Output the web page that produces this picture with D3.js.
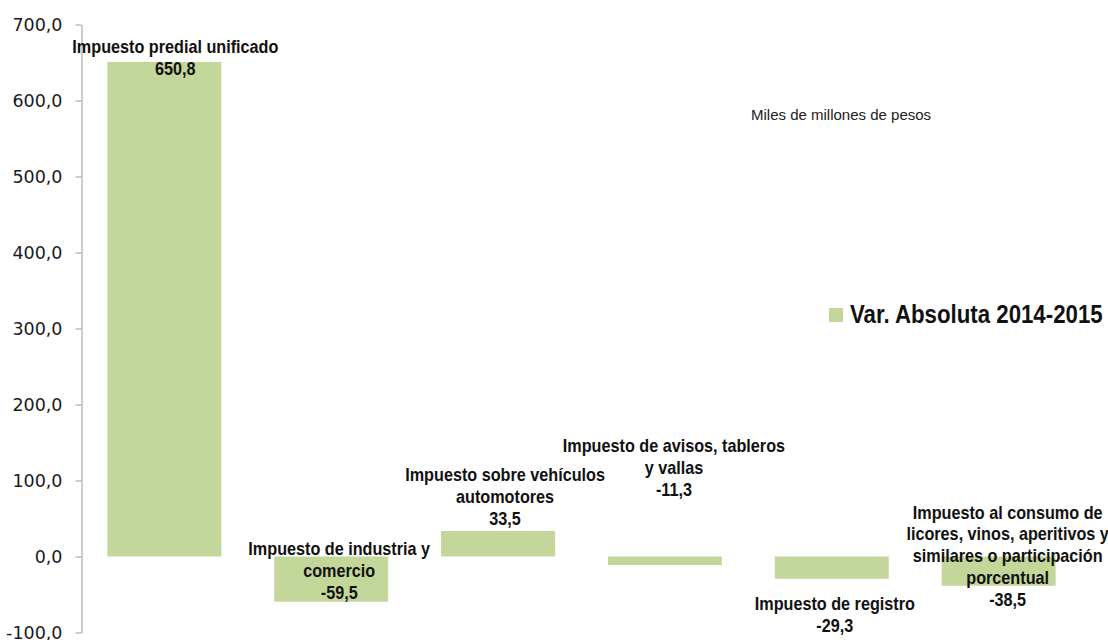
<!DOCTYPE html>
<html>
<head>
<meta charset="utf-8">
<script src="https://cdn.jsdelivr.net/npm/d3@7"></script>
<style>
    body { margin: 0; background: #fff; }
    svg { display: block; }
</style>
</head>
<body>
<script>
// data
const categories = [
    "Impuesto predial unificado",
    "Impuesto de industria y comercio",
    "Impuesto sobre vehículos automotores",
    "Impuesto de avisos, tableros y vallas",
    "Impuesto de registro",
    "Impuesto al consumo de licores, vinos, aperitivos y similares o participación porcentual"
]
const labelLines = [
    ["Impuesto predial unificado"],
    ["Impuesto de industria y", "comercio"],
    ["Impuesto sobre vehículos", "automotores"],
    ["Impuesto de avisos, tableros", "y vallas"],
    ["Impuesto de registro"],
    ["Impuesto al consumo de", "licores, vinos, aperitivos y", "similares o participación", "porcentual"]
]
const values = [650.8, -59.5, 33.5, -11.3, -29.3, -38.5]
const yTicks = [-100, 0, 100, 200, 300, 400, 500, 600, 700]
const seriesName = "Var. Absoluta 2014-2015"
const unitNote = "Miles de millones de pesos"

const width = 1108
const height = 640
const barColor = "#c4d79b"
// no condensed face installed, so squeeze Liberation Sans sideways
const labelFont = "'Liberation Sans', Arial, sans-serif"
const squeeze = 0.9

// manual label offsets (dx from bar centre, dy of last line from bar end), like the Excel original
const labelShift = [[11, 13], [8, -3], [7, -6], [9, -69], [3, 53], [9, 20]]
const lineGap = 21.8

const locale = d3.formatLocale({decimal: ",", thousands: ".", grouping: [3], currency: ["$", ""], minus: "-"})
const fmt = locale.format(".1f")

const svg = d3.select("body").append("svg")
    .attr("width", width)
    .attr("height", height)

const x = d3.scaleBand()
    .domain(categories)
    .range([81, 1082])
    .paddingInner(0.317)
    .paddingOuter(0.158)

const y = d3.scaleLinear()
    .domain([-100, 700])
    .range([632.5, 24.5])

// bars
svg.append("g")
    .selectAll("rect")
    .data(values)
    .enter().append("rect")
    .attr("x", (d, i) => x(categories[i]))
    .attr("width", x.bandwidth())
    .attr("y", d => y(Math.max(0, d)))
    .attr("height", d => Math.abs(y(d) - y(0)))
    .attr("fill", barColor)

// y axis
const axis = svg.append("g")
    .attr("transform", "translate(81.5,0)")
    .call(d3.axisLeft(y)
        .tickValues(yTicks)
        .tickFormat(fmt)
        .tickSize(6)
        .tickSizeOuter(0)
        .tickPadding(13))

axis.select(".domain").attr("stroke", "#9a9a9a")
axis.selectAll(".tick line").attr("stroke", "#9a9a9a")
axis.selectAll(".tick text")
    .attr("fill", "#1a1a1a")
    .style("font-family", "'DejaVu Sans', sans-serif")
    .style("font-size", "17.5px")

// data labels
const labels = svg.append("g")
    .style("font-family", labelFont)
    .style("font-weight", "bold")
    .style("font-size", "18px")
    .attr("fill", "#111")
    .attr("text-anchor", "middle")

values.forEach((v, i) => {
    const lines = labelLines[i].concat([fmt(v)])
    const cx = x(categories[i]) + x.bandwidth() / 2 + labelShift[i][0]
    const lastY = y(v) + labelShift[i][1]
    const t = labels.append("text")
        .attr("transform", `translate(${cx},0) scale(${squeeze},1)`)
    lines.forEach((line, j) => {
        t.append("tspan")
            .attr("x", 0)
            .attr("y", lastY - (lines.length - 1 - j) * lineGap)
            .text(line)
    })
})

// unit note
svg.append("text")
    .attr("x", 751)
    .attr("y", 120)
    .attr("fill", "#222")
    .style("font-family", "'Liberation Sans', sans-serif")
    .style("font-size", "15px")
    .text(unitNote)

// legend
const legend = svg.append("g").attr("transform", "translate(829,308)")
legend.append("rect")
    .attr("width", 14)
    .attr("height", 14)
    .attr("fill", barColor)
legend.append("text")
    .attr("transform", "translate(21,15) scale(0.89,1)")
    .attr("fill", "#111")
    .style("font-family", labelFont)
    .style("font-weight", "bold")
    .style("font-size", "25px")
    .text(seriesName)
</script>
</body>
</html>
